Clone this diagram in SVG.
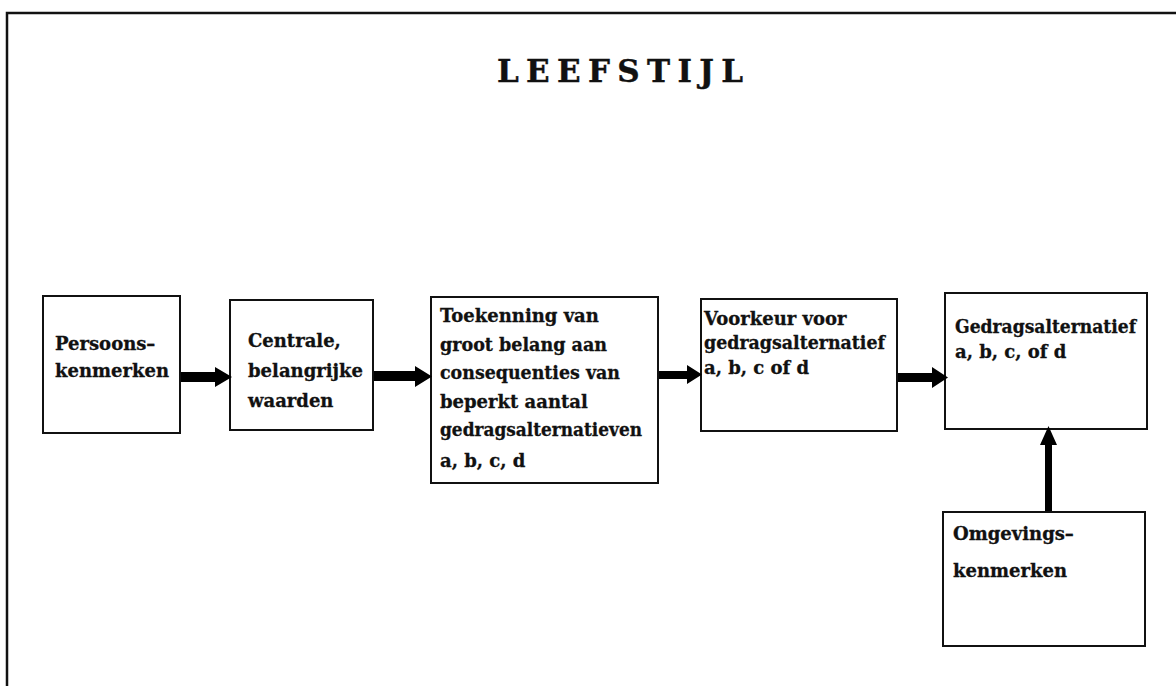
<svg xmlns="http://www.w3.org/2000/svg" width="1176" height="686" viewBox="0 0 1176 686">
<style>
.box{fill:#fff;stroke:#111;stroke-width:2}
.t{font-family:"DejaVu Serif","Liberation Serif",serif;font-weight:bold;font-size:18px;fill:#111;stroke:#111;stroke-width:0.3}
.title{font-family:"DejaVu Serif","Liberation Serif",serif;font-weight:bold;font-size:31px;fill:#111;stroke:#111;stroke-width:0.4}
.arr{fill:#000}
</style>
<rect width="1176" height="686" fill="#fff"/>
<path d="M7,686 V13 H1176" fill="none" stroke="#111" stroke-width="2.5"/>
<text class="title" x="497" y="82" textLength="246" lengthAdjust="spacing">L E E F S T I J L</text>
<g id="n1">
<rect class="box" x="43" y="296" width="137" height="137"/>
<text class="t" x="55" y="350">Persoons–</text>
<text class="t" x="55" y="377">kenmerken</text>
</g>
<g id="n2">
<rect class="box" x="230" y="300" width="143" height="130"/>
<text class="t" x="248" y="347">Centrale,</text>
<text class="t" x="248" y="377">belangrijke</text>
<text class="t" x="248" y="407">waarden</text>
</g>
<g id="n3">
<rect class="box" x="431" y="297" width="227" height="186"/>
<text class="t" x="440" y="322">Toekenning van</text>
<text class="t" x="440" y="351" textLength="167" lengthAdjust="spacingAndGlyphs">groot belang aan</text>
<text class="t" x="440" y="379" textLength="180" lengthAdjust="spacingAndGlyphs">consequenties van</text>
<text class="t" x="440" y="408">beperkt aantal</text>
<text class="t" x="440" y="436" textLength="202" lengthAdjust="spacingAndGlyphs">gedragsalternatieven</text>
<text class="t" x="440" y="467">a, b, c, d</text>
</g>
<g id="n4">
<rect class="box" x="701" y="299" width="196" height="132"/>
<text class="t" x="704" y="325">Voorkeur voor</text>
<text class="t" x="704" y="349" textLength="181" lengthAdjust="spacingAndGlyphs">gedragsalternatief</text>
<text class="t" x="704" y="374">a, b, c of d</text>
</g>
<g id="n5">
<rect class="box" x="945" y="293" width="202" height="136"/>
<text class="t" x="955" y="333" textLength="181" lengthAdjust="spacingAndGlyphs">Gedragsalternatief</text>
<text class="t" x="955" y="358">a, b, c, of d</text>
</g>
<g id="n6">
<rect class="box" x="943" y="512" width="202" height="134"/>
<text class="t" x="953" y="540">Omgevings–</text>
<text class="t" x="953" y="577">kenmerken</text>
</g>
<g id="connectors">
<polygon class="arr" points="181,372 215,372 215,367 232,377 215,387 215,382 181,382"/>
<polygon class="arr" points="374,371 415,371 415,366 432,376.5 415,387 415,381 374,381"/>
<polygon class="arr" points="659,371 687,371 687,365 702,374.5 687,384 687,379 659,379"/>
<polygon class="arr" points="898,373 932,373 932,367 948,377.5 932,388 932,382 898,382"/>
<polygon class="arr" points="1045,511 1045,445 1040,445 1048.5,426 1057,445 1052,445 1052,511"/>
</g>
</svg>
